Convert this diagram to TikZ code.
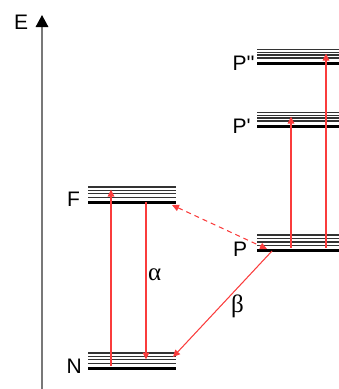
\documentclass[tikz,border=0pt]{standalone}
\usepackage{fontspec}
\setmainfont{Liberation Sans}
\newfontfamily\grk{Liberation Serif}
\usetikzlibrary{arrows.meta}
\definecolor{arrred}{RGB}{250,60,60}
\definecolor{axgray}{RGB}{120,120,120}
\newcommand{\sq}{\XeTeXglyph\XeTeXcharglyph"0027\relax}
\tikzset{
  lbl/.style={anchor=base west, inner sep=0pt, font=\fontsize{21}{21}\selectfont},
  glbl/.style={anchor=base west, inner sep=0pt, font=\grk\fontsize{25}{25}\selectfont},
  thinlev/.style={black!80, line width=1.3pt},
  thicklev/.style={black, line width=3.2pt},
  trans/.style={arrred, line width=1.05pt, -{Triangle[length=7pt,width=6.5pt]}},
  dtrans/.style={arrred, line width=1.05pt, dash pattern=on 5pt off 4pt, {Triangle[length=7pt,width=6.5pt]}-{Triangle[length=7pt,width=6.5pt]}},
}
\newcommand{\mylevel}[4]{% x1, x2, y0, spacing
  \foreach \k in {0,1,2,3}{\draw[thinlev] (#1,{#3+\k*#4}) -- (#2,{#3+\k*#4});}
  \draw[thicklev] (#1,{#3+3*#4+5.2}) -- (#2,{#3+3*#4+5.2});
}
\begin{document}
\begin{tikzpicture}[x=1pt,y=-1pt]
\useasboundingbox (0,0) rectangle (339,389);
% axis
\coordinate (axbot) at (42,389);
\coordinate (axtop) at (42,15);
\draw[axgray, line width=1.5pt, -{Triangle[length=12pt,width=12.5pt,color=black]}] (axbot) -- (axtop);
\node[lbl] (E) at (14,29) {E};
% levels
\mylevel{88}{176}{187}{3.4}
\mylevel{88}{176}{353}{3.4}
\mylevel{257}{339}{235}{3.5}
\mylevel{257}{339}{112.5}{2.8}
\mylevel{257}{339}{49.5}{2.8}
\node[lbl] (F) at (67,206) {F};
\node[lbl] (N) at (66.5,373) {N};
\node[lbl] (P) at (233,256) {P};
\node[lbl] (P1) at (232.5,133) {P\sq};
\node[lbl] (P2) at (232.5,70) {P\sq\sq};
% transition end points
\coordinate (n1) at (111,366);
\coordinate (f1) at (111,189.5);
\coordinate (f2) at (146,202);
\coordinate (n2) at (146,359.5);
\coordinate (fd) at (172,205);
\coordinate (pd) at (267,249);
\coordinate (pb) at (272,251);
\coordinate (nb) at (173,357);
\coordinate (p1) at (291,248);
\coordinate (q1) at (291,116.5);
\coordinate (p2) at (326,248);
\coordinate (q2) at (326,53.5);
\draw[trans] (n1) -- (f1);
\draw[trans] (f2) -- (n2);
\draw[dtrans] (fd) -- (pd);
\draw[trans] (pb) -- (nb);
\draw[trans] (p1) -- (q1);
\draw[trans] (p2) -- (q2);
\node[glbl] (alpha) at (148,280) {α};
\node[glbl] (beta) at (231,312) {β};
\end{tikzpicture}
\end{document}
